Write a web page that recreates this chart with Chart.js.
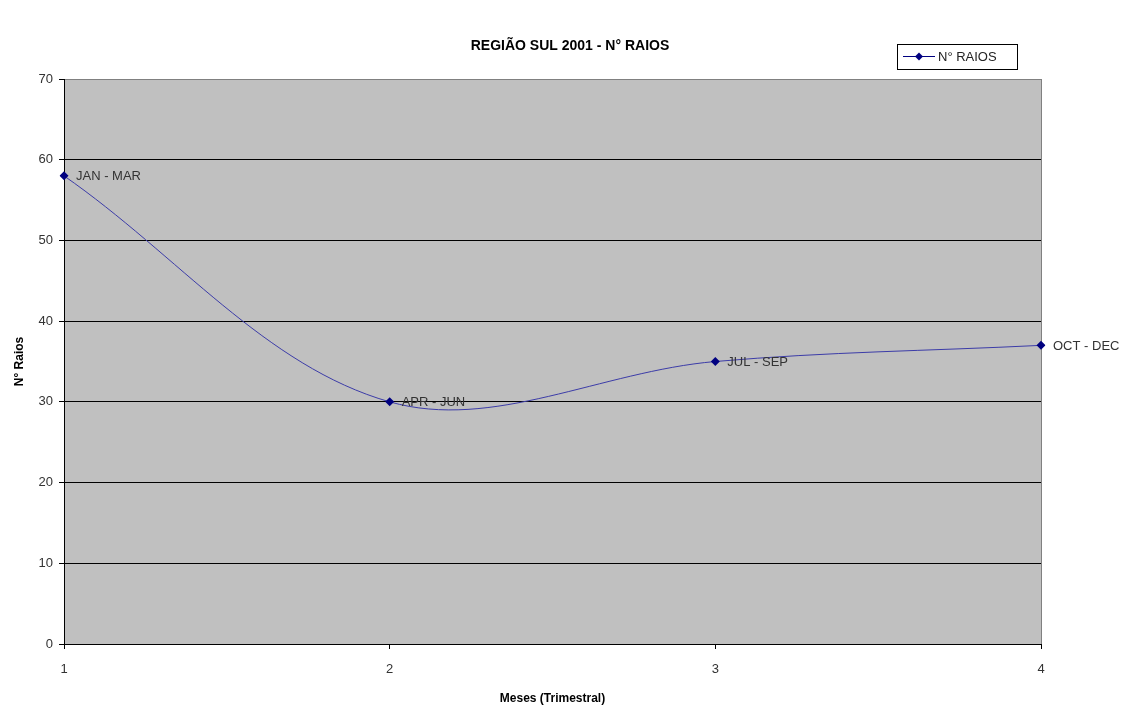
<!DOCTYPE html>
<html>
<head>
<meta charset="utf-8">
<script src="https://cdn.jsdelivr.net/npm/chart.js@4/dist/chart.umd.min.js"></script>
<style>
  body { margin: 0; background: #fff; }
  #wrap { width: 1139px; height: 711px; }
</style>
</head>
<body>
<div id="wrap"><canvas id="line-chart" width="1139" height="711"></canvas></div>
<script>
  var trimestres = ["1", "2", "3", "4"];
  var raios = [58, 30, 35, 37];
  var periodos = ["JAN - MAR", "APR - JUN", "JUL - SEP", "OCT - DEC"];
  var yTicks = [0, 10, 20, 30, 40, 50, 60, 70];
  var dsLabel = "N° RAIOS";

  var font = "'Liberation Sans', Arial, sans-serif";

  // gray plot area + border
  var plotBg = {
    id: "plotBg",
    beforeDraw: function(chart) {
      var a = chart.chartArea, ctx = chart.ctx;
      ctx.save();
      ctx.fillStyle = "#c0c0c0";
      ctx.fillRect(a.left, a.top, a.right - a.left, a.bottom - a.top);
      ctx.strokeStyle = "#808080";
      ctx.lineWidth = 1;
      ctx.strokeRect(a.left + 0.5, a.top + 0.5, a.right - a.left, a.bottom - a.top);
      ctx.restore();
    }
  };

  // point labels, title and boxed legend
  var extras = {
    id: "extras",
    afterDatasetsDraw: function(chart) {
      var ctx = chart.ctx;
      var meta = chart.getDatasetMeta(0);
      ctx.save();
      ctx.font = "13px " + font;
      ctx.fillStyle = "#333";
      ctx.textBaseline = "middle";
      ctx.textAlign = "left";
      meta.data.forEach(function(p, i) {
        ctx.fillText(periodos[i], p.x + 12, p.y + 1);
      });

      // title
      ctx.font = "bold 14px " + font;
      ctx.fillStyle = "#000";
      ctx.textAlign = "center";
      ctx.fillText("REGIÃO SUL 2001 - N° RAIOS", 570, 46);

      // legend
      ctx.fillStyle = "#fff";
      ctx.fillRect(897, 44, 120, 25);
      ctx.strokeStyle = "#000";
      ctx.lineWidth = 1;
      ctx.strokeRect(897.5, 44.5, 120, 25);
      ctx.strokeStyle = "#000080";
      ctx.beginPath();
      ctx.moveTo(903, 56.5);
      ctx.lineTo(935, 56.5);
      ctx.stroke();
      ctx.fillStyle = "#000080";
      ctx.beginPath();
      ctx.moveTo(919, 52.5);
      ctx.lineTo(923, 56.5);
      ctx.lineTo(919, 60.5);
      ctx.lineTo(915, 56.5);
      ctx.closePath();
      ctx.fill();
      ctx.fillStyle = "#222";
      ctx.textAlign = "left";
      ctx.font = "13px " + font;
      ctx.fillText(dsLabel, 938, 57);
      ctx.restore();
    }
  };

  new Chart(document.getElementById("line-chart"), {
    type: "line",
    data: {
      labels: trimestres,
      datasets: [{
        label: dsLabel,
        data: raios,
        borderColor: "#3c3ca8",
        borderWidth: 1,
        tension: 0.35,
        pointStyle: "rectRot",
        pointRadius: 4.5,
        pointBackgroundColor: "#000080",
        pointBorderColor: "#000080",
        pointBorderWidth: 0,
        fill: false
      }]
    },
    options: {
      responsive: false,
      animation: false,
      layout: { padding: { top: 79, right: 98, left: 0, bottom: 0 } },
      plugins: {
        legend: { display: false },
        title: { display: false },
        tooltip: { enabled: false }
      },
      scales: {
        x: {
          type: "category",
          offset: false,
          afterFit: function(s) { s.height = 67; },
          grid: {
            drawOnChartArea: false,
            drawTicks: true,
            tickLength: 5,
            color: "#000"
          },
          border: { display: true, color: "#000", width: 1 },
          ticks: {
            padding: 13,
            color: "#333",
            font: { family: font, size: 13 }
          },
          title: {
            display: true,
            text: "Meses (Trimestral)",
            color: "#000",
            font: { family: font, size: 12, weight: "bold" },
            padding: { top: 0, bottom: 5 }
          }
        },
        y: {
          min: 0,
          max: 70,
          afterFit: function(s) { s.width = 64; },
          afterBuildTicks: function(s) {
            s.ticks = yTicks.map(function(v) { return { value: v }; });
          },
          grid: {
            color: function(c) { return c.tick && c.tick.value === 70 ? "#808080" : "#000"; },
            lineWidth: 1,
            tickLength: 5,
            tickColor: "#000"
          },
          border: { display: true, color: "#000", width: 1 },
          ticks: {
            padding: 6,
            color: "#333",
            font: { family: font, size: 13 }
          },
          title: {
            display: true,
            text: "N° Raios",
            color: "#000",
            font: { family: font, size: 12, weight: "bold" },
            padding: { top: 12, bottom: 0 }
          }
        }
      }
    },
    plugins: [plotBg, extras]
  });
</script>
</body>
</html>
